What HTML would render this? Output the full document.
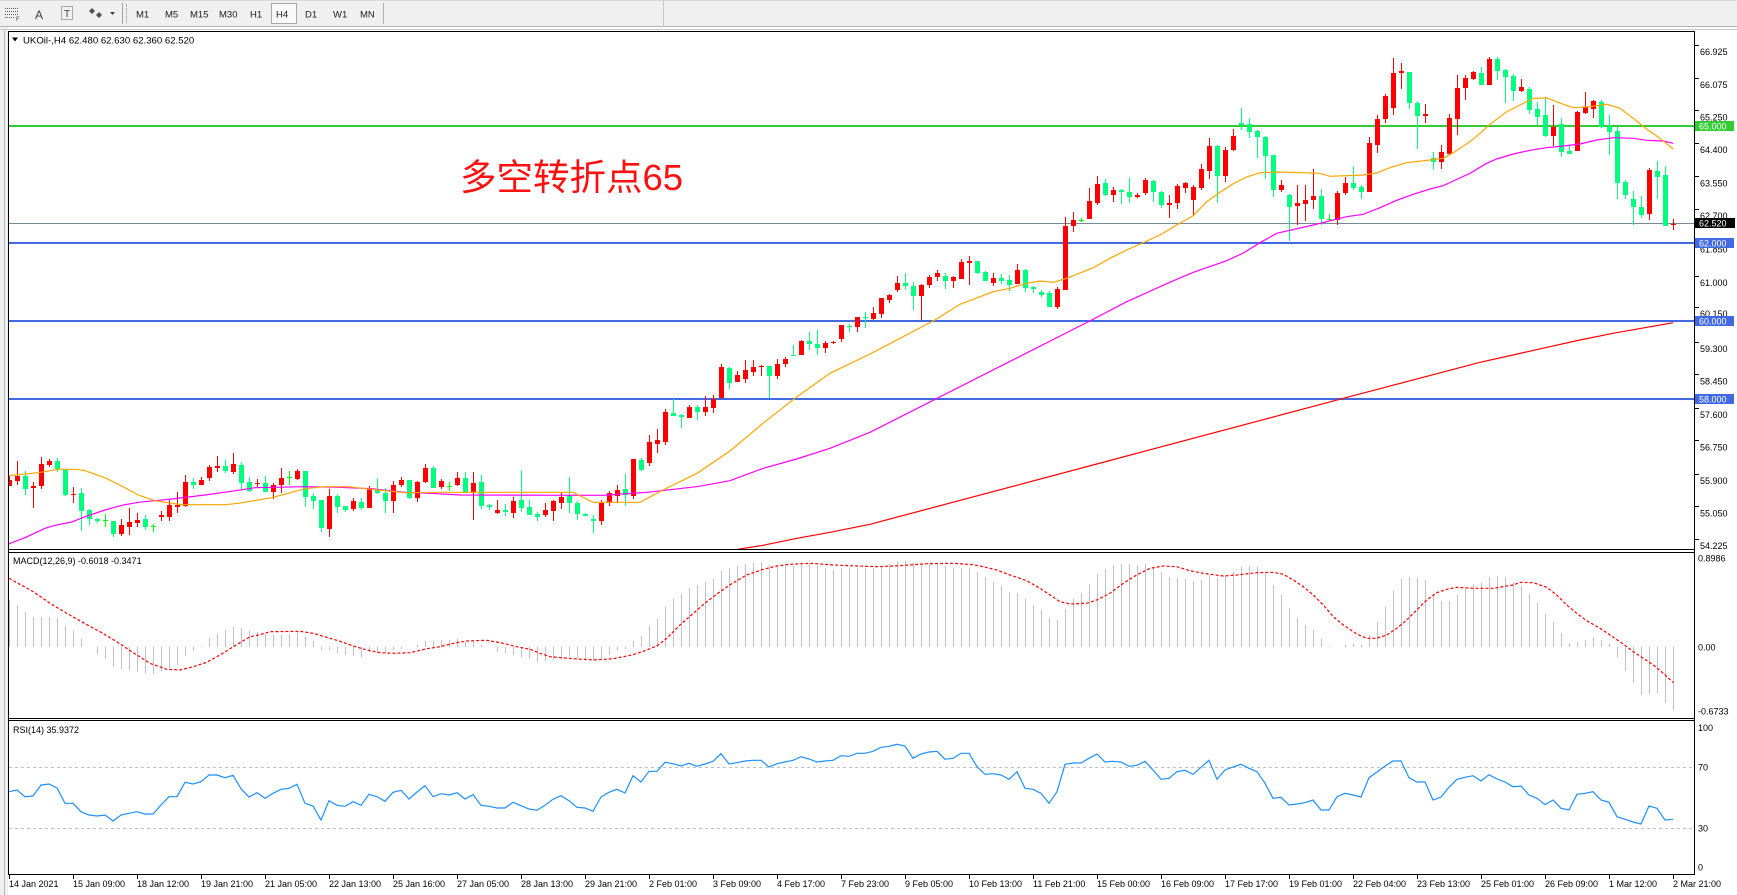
<!DOCTYPE html>
<html><head><meta charset="utf-8">
<style>
html,body{margin:0;padding:0;background:#fff;}
body{width:1737px;height:895px;overflow:hidden;position:relative;}
svg{position:absolute;left:0;top:0;}
text{font-family:"Liberation Sans",sans-serif;font-size:9px;fill:#000;}
.tb{font-size:9.5px;fill:#202020;}
.ax{font-size:9px;}
.lb{font-size:9px;fill:#fff;}
</style></head><body>
<svg id="s" width="1737" height="895" xmlns="http://www.w3.org/2000/svg">
<defs>
<clipPath id="cm"><rect x="9" y="32" width="1685" height="517"/></clipPath>
<clipPath id="cmacd"><rect x="9" y="553" width="1685" height="165"/></clipPath>
<clipPath id="crsi"><rect x="9" y="721" width="1685" height="153"/></clipPath>
</defs>
<!-- toolbar -->
<rect x="0" y="0" width="1737" height="27" fill="#f0f0f0"/>
<line x1="0" y1="0.5" x2="1737" y2="0.5" stroke="#d8d8d8"/>
<line x1="0" y1="26.5" x2="1737" y2="26.5" stroke="#b4b4b4"/>
<g shape-rendering="crispEdges">
<line x1="5" y1="8.5" x2="18" y2="8.5" stroke="#606060" stroke-dasharray="1,1"/>
<line x1="5" y1="11.5" x2="18" y2="11.5" stroke="#606060" stroke-dasharray="1,1"/>
<line x1="5" y1="14.5" x2="18" y2="14.5" stroke="#606060" stroke-dasharray="1,1"/>
<line x1="5" y1="17.5" x2="14" y2="17.5" stroke="#606060" stroke-dasharray="1,1"/>
<rect x="61.5" y="6.5" width="11" height="13" fill="none" stroke="#606060" stroke-dasharray="1,1"/>
<line x1="122.5" y1="3" x2="122.5" y2="24" stroke="#a0a0a0"/>
<line x1="126.5" y1="4" x2="126.5" y2="23" stroke="#909090" stroke-dasharray="1,1"/>
<rect x="271.5" y="3.5" width="25" height="20" fill="#f9f9f9" stroke="#a8a8a8"/>
<line x1="383.5" y1="3" x2="383.5" y2="24" stroke="#b0b0b0"/>
<line x1="663.5" y1="0" x2="663.5" y2="27" stroke="#c8c8c8"/>
</g>
<text x="16" y="21" style="font-size:6px;fill:#404040">F</text>
<text x="35" y="19" style="font-size:12px;fill:#404040">A</text>
<text x="64" y="17" style="font-size:10px;fill:#404040">T</text>
<polygon points="92,8 95,11 92,14 89,11" fill="#505050"/>
<polygon points="99,12 102,15 99,18 96,15" fill="#505050"/>
<polygon points="110,12 115,12 112.5,15" fill="#404040"/>
<text class="tb" x="136" y="17.5">M1</text>
<text class="tb" x="165" y="17.5">M5</text>
<text class="tb" x="190" y="17.5">M15</text>
<text class="tb" x="219" y="17.5">M30</text>
<text class="tb" x="250" y="17.5">H1</text>
<text class="tb" x="276" y="17.5">H4</text>
<text class="tb" x="305" y="17.5">D1</text>
<text class="tb" x="333" y="17.5">W1</text>
<text class="tb" x="360" y="17.5">MN</text>
<!-- left strip -->
<rect x="0" y="27" width="8" height="868" fill="#f0f0f0"/>
<line x1="4.5" y1="29" x2="4.5" y2="895" stroke="#b8b8b8"/>
<line x1="0" y1="29.5" x2="1737" y2="29.5" stroke="#c8c8c8"/>

<!-- horizontal level lines -->
<g clip-path="url(#cm)" shape-rendering="crispEdges">
<rect x="9" y="125" width="1685" height="2" fill="#32cd32"/>
<rect x="9" y="242" width="1685" height="2" fill="#4169e1"/>
<rect x="9" y="320" width="1685" height="2" fill="#4169e1"/>
<rect x="9" y="398" width="1685" height="2" fill="#4169e1"/>
<rect x="9" y="223" width="1685" height="1" fill="#778899"/>
</g>
<text x="460" y="190" style="font-family:'Liberation Sans','Noto Sans CJK SC',sans-serif;font-size:36.5px;fill:#ff1010">多空转折点65</text>
<g id="candles" clip-path="url(#cm)" shape-rendering="crispEdges"></g>
<g id="mas" clip-path="url(#cm)" fill="none"></g>
<g id="macd" clip-path="url(#cmacd)"></g>
<g id="rsi" clip-path="url(#crsi)"></g>

<!-- frames -->
<g shape-rendering="crispEdges" stroke="#000" fill="none">
<line x1="8.5" y1="31" x2="8.5" y2="875"/>
<line x1="1694.5" y1="31" x2="1694.5" y2="875"/>
<line x1="8" y1="31.5" x2="1695" y2="31.5"/>
<line x1="8" y1="549.5" x2="1695" y2="549.5"/>
<line x1="8" y1="552.5" x2="1695" y2="552.5"/>
<line x1="8" y1="718.5" x2="1695" y2="718.5"/>
<line x1="8" y1="720.5" x2="1695" y2="720.5"/>
<line x1="8" y1="874.5" x2="1695" y2="874.5"/>
</g>
<g id="ticks" shape-rendering="crispEdges" stroke="#000"></g>

<!-- header texts -->
<polygon points="12,37.5 18,37.5 15,41.5" fill="#000"/>
<text x="23" y="43.5" style="font-size:9.6px">UKOil-,H4  62.480 62.630 62.360 62.520</text>
<text x="13" y="564">MACD(12,26,9) -0.6018 -0.3471</text>
<text x="13" y="733">RSI(14) 35.9372</text>

<!-- price axis -->
<g class="ax">
<text class="ax" x="1700" y="55">66.925</text>
<text class="ax" x="1700" y="88">66.075</text>
<text class="ax" x="1700" y="120.5">65.250</text>
<text class="ax" x="1700" y="153">64.400</text>
<text class="ax" x="1700" y="186.5">63.550</text>
<text class="ax" x="1700" y="219">62.700</text>
<text class="ax" x="1700" y="252.5">61.850</text>
<text class="ax" x="1700" y="286">61.000</text>
<text class="ax" x="1700" y="317">60.150</text>
<text class="ax" x="1700" y="352">59.300</text>
<text class="ax" x="1700" y="384.5">58.450</text>
<text class="ax" x="1700" y="418">57.600</text>
<text class="ax" x="1700" y="450.5">56.750</text>
<text class="ax" x="1700" y="484">55.900</text>
<text class="ax" x="1700" y="516.5">55.050</text>
<text class="ax" x="1700" y="549">54.225</text>
</g>
<g shape-rendering="crispEdges">
<rect x="1695" y="121" width="39" height="10" fill="#32cd32"/>
<rect x="1695" y="218" width="40" height="10" fill="#000"/>
<rect x="1695" y="238" width="39" height="10" fill="#4169e1"/>
<rect x="1695" y="316" width="39" height="10" fill="#4169e1"/>
<rect x="1695" y="394" width="39" height="10" fill="#4169e1"/>
</g>
<text class="lb" x="1699" y="129.5">65.000</text>
<text class="lb" x="1699" y="226.5">62.520</text>
<text class="lb" x="1699" y="246.5">62.000</text>
<text class="lb" x="1699" y="324.5">60.000</text>
<text class="lb" x="1699" y="402.5">58.000</text>
<!-- MACD axis -->
<text x="1698" y="561.5">0.8986</text>
<text x="1698" y="650.3">0.00</text>
<text x="1698" y="714.5">-0.6733</text>
<!-- RSI axis -->
<text x="1698" y="731">100</text>
<text x="1698" y="770.5">70</text>
<text x="1698" y="831.5">30</text>
<text x="1698" y="870.5">0</text>
<!-- time axis -->
<g>
<text x="9" y="887">14 Jan 2021</text>
<text x="73" y="887">15 Jan 09:00</text>
<text x="137" y="887">18 Jan 12:00</text>
<text x="201" y="887">19 Jan 21:00</text>
<text x="265" y="887">21 Jan 05:00</text>
<text x="329" y="887">22 Jan 13:00</text>
<text x="393" y="887">25 Jan 16:00</text>
<text x="457" y="887">27 Jan 05:00</text>
<text x="521" y="887">28 Jan 13:00</text>
<text x="585" y="887">29 Jan 21:00</text>
<text x="649" y="887">2 Feb 01:00</text>
<text x="713" y="887">3 Feb 09:00</text>
<text x="777" y="887">4 Feb 17:00</text>
<text x="841" y="887">7 Feb 23:00</text>
<text x="905" y="887">9 Feb 05:00</text>
<text x="969" y="887">10 Feb 13:00</text>
<text x="1033" y="887">11 Feb 21:00</text>
<text x="1097" y="887">15 Feb 00:00</text>
<text x="1161" y="887">16 Feb 09:00</text>
<text x="1225" y="887">17 Feb 17:00</text>
<text x="1289" y="887">19 Feb 01:00</text>
<text x="1353" y="887">22 Feb 04:00</text>
<text x="1417" y="887">23 Feb 13:00</text>
<text x="1481" y="887">25 Feb 01:00</text>
<text x="1545" y="887">26 Feb 09:00</text>
<text x="1609" y="887">1 Mar 12:00</text>
<text x="1673" y="887">2 Mar 21:00</text>
</g>
</svg>
<script>
(function(){
const NS='http://www.w3.org/2000/svg';
function mk(t,a,p){const e=document.createElementNS(NS,t);for(const k in a)e.setAttribute(k,a[k]);p.appendChild(e);return e;}
const segs=[
[400,0,"r 240 257 228 257,r 228 242 183 254,g 228 266 213 284,r 258 263 246 323,r 192 257 171 266,r 183 194 178 200,g 183 208 174 215,g 208 285 208 287,r 281 284 262 308,g 279 332 264 392,g 329 356 326 374,g 356 364 353 368,d 359 359 343 380,g 363 402 363 410,r 375 402 357 408,r 366 380 323 404,r 359 368 339 382,g 356 380 346 390,d 378 378 371 395,r 345 350 333 362,r 314 350 300 362,r 316 320 276 338,r 246 318 225 320,g 246 254 234 267,r 240 255 232 255,r 201 233 195 243,r 198 203 168 215,g 198 212 180 220,r 192 215 159 222,g 195 248 186 268,g 246 274 230 275,r 249 252 237 262,g 249 275 229 276,r 255 276 249 296,r 234 254 204 278,d 232 232 213 254,r 213 237 208 240,g 213 290 213 321,g 288 302 280 327,g 300 383 300 395,r 288 386 267 410,g 288 320 282 338,g 318 329 318 335,r 303 326 294 332,g 306 323 294 329,r 264 323 258 323,g 268 280 234 282,g 278 302 264 338,r 255 302 243 338,r 240 254 232 260,g 240 293 240 296,r 246 293 243 306,r 204 246 192 249,g 204 263 198 263,r 243 260 237 268"],
[260,55,"d 678 678 667 692,r 655 675 636 678,g 655 700 636 700,r 670 695 636 780,g 666 738 646 746,g 735 741 732 749,r 751 758 720 762,g 750 755 733 768,r 723 758 711 773,g 720 743 630 755,g 741 764 720 765,g 762 770 757 782,r 750 765 730 770,r 723 752 720 782,r 710 728 696 746,g 705 728 651 758,g 728 762 723 779,g 762 767 758 768,g 776 782 764 818,r 728 782 720 794,r 700 730 693 737,r 690 707 675 730,g 687 705 641 737,r 597 707 597 718,g 600 630 594 632,r 546 608 525 617,r 540 551 507 578,r 456 546 446 554,g 459 467 418 467,g 464 472 462 503,r 440 473 435 473,g 440 455 435 479,r 440 455 408 467,r 418 443 405 459,r 321 413 312 413,g 324 369 321 386,r 345 365 333 366,r 330 356 301 368,r 321 335 299 347,r 318 322 315 347,g 318 347 318 413,r 312 347 297 357,r 297 311 291 320,e 284 284 256 287,r 242 284 239 284,g 243 251 215 269,g 252 263 210 284,r 249 263 243 278,r 245 250 243 251,r 195 236 195 245,e 197 197 192 215,r 171 200 171 215,e 172 172 155 203"],
[95,108,"r 655 672 636 675,r 608 657 608 670,r 600 615 597 623,r 564 585 543 590,g 564 573 534 585,g 573 603 561 645,r 570 603 567 675,r 546 570 540 579,r 534 546 525 558,g 543 558 534 582,r 546 558 543 579,r 501 552 492 552,r 498 503 483 570,g 498 534 498 537,g 531 558 528 558,r 549 564 534 573,g 549 558 537 567,g 555 570 540 588,r 525 567 507 567,g 525 579 522 591,g 577 583 573 595,g 591 600 585 606,g 594 636 588 636,r 582 636 576 642,r 393 585 366 585,r 375 393 351 411,d 376 376 370 382,r 318 372 279 372,r 267 324 243 330,g 264 300 252 303,r 285 300 276 321,g 285 291 282 327,g 291 306 249 324,r 299 305 294 309,r 255 294 249 300,g 258 291 255 321,g 291 330 288 339,r 324 330 300 369,r 273 324 267 342,r 264 279 261 294,r 276 315 270 363,r 222 279 207 285,r 153 228 129 252,g 153 243 150 324,r 165 243 156 261,r 123 165 102 168,g 84 90 39 105,g 87 111 69 129,g 108 126 105 189,g 126 183 123 252,g 180 285 180 306"],
[35,159,"r 450 465 435 470,g 480 516 477 618,r 504 513 450 570,r 495 507 450 558,r 483 495 402 522,g 483 552 462 570,d 552 552 537 555,r 474 555 468 570,r 444 474 426 480,g 444 459 393 465,g 456 471 450 492,r 324 471 306 471,r 252 330 240 354,r 183 252 177 264,r 114 219 69 240,r 108 114 84 162,g 111 204 111 222,g 204 243 198 342,r 237 243 207 264,g 369 381 351 405,r 351 381 330 402,r 249 357 237 360,r 159 252 120 300,r 129 159 120 195,r 111 132 108 135,g 114 150 96 150,r 72 150 66 150,g 72 108 66 135,g 105 126 102 204,g 123 168 117 198,r 156 168 132 171,g 162 225 156 237,g 222 246 201 270,g 240 303 186 306,r 276 303 210 333,g 267 351 249 366,g 348 357 333 357,r 231 348 228 348,r 216 234 171 237,r 198 222 195 249,g 201 276 195 279,g 273 291 240 360,g 288 444 276 492,g 441 480 435 492,g 492 516 468 570,g 516 540 483 549,r 405 537 399 555,g 408 426 378 492,g 420 573 393 573,x 567 567 552 585"]
];
const COL={r:'#ff0000',g:'#00ff7f',d:'#00ff00',e:'#00ff7f',x:'#ff0000'};
const cg=document.getElementById('candles');
segs.forEach(function(sg){const off=sg[0],st=sg[1];
 sg[2].split(',').forEach(function(c,j){const p=c.trim().split(' ');const t=p[0];
  const v=p.slice(1).map(Number).map(function(z){return Math.round(off+z/3);});
  const cx=9+8*(st+j);const col=COL[t];
  mk('rect',{x:cx,y:v[2],width:1,height:Math.max(1,v[3]-v[2]),fill:col},cg);
  if(t==='d'||t==='e'||t==='x'){mk('rect',{x:cx-2,y:v[0],width:5,height:1,fill:col},cg);}
  else{mk('rect',{x:cx-2,y:v[0],width:5,height:Math.max(1,v[1]-v[0]),fill:col},cg);}
 });});
function pts(a){return a.map(function(p){return p[0]+','+p[1];}).join(' ');}
const mg=document.getElementById('mas');
const orange=[[8.3,475.7],[38.3,472.7],[58.3,469.3],[76.7,469.3],[85,470.7],[105,477.7],[121.7,486],[138.3,495],[155,500.7],[171.7,503.3],[181.7,504.7],[225,504.7],[238.3,503.3],[271.7,497.7],[288.3,493.3],[305,488.7],[325,486.7],[348.3,486.7],[371.7,489.3],[405,492.7],[445,492.3],[573,492.3],[593,502.3],[640,502.3],[663,490],[697,473.3],[730,451],[763,423.3],[797,396.7],[830,373.3],[870,354],[935,320],[960,304.3],[993.3,291.7],[1010,288.3],[1026.7,283.3],[1040,281],[1053.3,282.3],[1066.7,278.3],[1093.3,267.7],[1110,258.3],[1126.7,250],[1143.3,242.7],[1160,235],[1176.7,225],[1193.3,215.7],[1206.7,201.7],[1220,192.3],[1233.3,183.7],[1246.7,177],[1260,172.7],[1280,172],[1320,173.3],[1330,176.3],[1363.3,175],[1376.7,173],[1390,167.7],[1406.7,162.7],[1430,160],[1443.3,158.3],[1453.3,152.7],[1470,141.7],[1480,133.3],[1490,124.3],[1506.7,111.7],[1520,105],[1533.3,98.3],[1546.7,98],[1563.3,104.3],[1573.3,107.7],[1590,106.7],[1606.7,104.3],[1620,108.3],[1633.3,118.3],[1646.7,129],[1660,138.3],[1673.3,149]];
const magenta=[[8.3,544],[25,537.7],[45,528.3],[55,525.3],[71.7,522],[85,516.7],[105,510],[121.7,505.3],[138.3,502.3],[155,500.7],[171.7,499],[205,495],[238.3,490.3],[255,487.7],[305,486.7],[338.3,487.3],[371.7,488.7],[405,492.3],[430,493.3],[460,495],[603,495.3],[646.7,492.3],[696.7,486.7],[730,480.7],[763.3,468.3],[796.7,459],[830,448.3],[870,432.3],[1091.7,320],[1126.7,301.7],[1160,286.7],[1176.7,279.3],[1193.3,272.3],[1226.7,260.7],[1243.3,253],[1260,242.7],[1276.7,233.3],[1313.3,225],[1346.7,216.7],[1363.3,214.3],[1380,207.7],[1396.7,200.3],[1413.3,194.3],[1430,189],[1443.3,185.7],[1453.3,181],[1470,173.3],[1486.7,163.3],[1496.7,159],[1513.3,154],[1530,150.3],[1546.7,147.7],[1563.3,146],[1580,144],[1596.7,140],[1613.3,137.7],[1633.3,138.3],[1646.7,140.3],[1663.3,141],[1673.3,143.3]];
const red200=[[700,557],[740,549],[763,545.3],[797,538.3],[830,532.3],[870,524.3],[1108,461],[1342,398.7],[1480,362.3],[1513,355],[1547,347.3],[1580,340],[1613,333.3],[1647,327.3],[1673,322.7]];
mk('polyline',{points:pts(red200),stroke:'#ff0000','stroke-width':1.2},mg);
mk('polyline',{points:pts(magenta),stroke:'#ff00ff','stroke-width':1.2},mg);
mk('polyline',{points:pts(orange),stroke:'#ffa500','stroke-width':1.2},mg);
// MACD
const hist=[600,605,612,617,617,617,618,626,631,639,647,654,659,667,669,670,672,673,674,671,668,665,656,651,646,638,634,630,627,627.7,630.7,632,633.7,634.7,634.7,633.7,631.7,636.7,640.7,650,649.7,652.7,654.7,655.7,656.7,651.7,652.7,652.7,650,648.7,647.3,645,640.7,640.7,639.7,639.7,638.7,641.7,641.7,644.7,646.7,651.7,652.7,654.7,656.7,658.7,661.7,660.7,659.7,658.7,656.7,658.7,659.7,659.7,658.7,654.7,650.7,648.7,640.7,635.7,625.7,618.7,606.7,598.7,593.7,587.7,584.7,581.7,578.7,570.7,567.7,565.7,563.7,562.7,
562,565,566,566,566,565,563.3,566,567.7,570,568,568,568,568,568,566,564,562,561,563,564,564,564,566,568,568,568,572,577,582,586,592,593,599,605,610,618,620,609,599,593,584,574,569,565,564,564,565,564,567,572,577,578,579,581,580,575,578,576,572,567,566,567,572,
584.7,594.7,607.7,618,625,630,638.7,646,647,645,644,645,635,622,607,591,579,577,578,580,595,601,601,595,589,584,583,577,576,577,
582,586,594,603,614,622,633,643,642,640,637,640,644,656.7,671,683,695,694,693,703,710];
const Z=647;const hg=document.getElementById('macd');
const hh=mk('g',{'shape-rendering':'crispEdges'},hg);
hist.forEach(function(y,i){const x=9+8*i;const yy=Math.round(y);const t=Math.min(yy,Z),b=Math.max(yy,Z);if(b-t>=1)mk('rect',{x:x,y:t,width:1,height:b-t,fill:'#c0c0c0'},hh);});
const sig=[[9,578.3],[33.3,591.7],[50,603.3],[66.7,613.3],[83.3,622.7],[100,631.7],[116.7,641.7],[133.3,652.7],[150,663.3],[166.7,669.3],[180,670],[193.3,666.7],[206.7,662.3],[220,655],[233.3,646.7],[250,636.7],[260,634.7],[270,631.7],[300,631.3],[313.3,633.3],[326.7,637.3],[340,641.3],[353.3,646],[366.7,650],[380,652.7],[393.3,653.3],[410,652.7],[426.7,648.7],[440,646.7],[453.3,643.3],[466.7,641],[486.7,640.3],[503.3,643.3],[516.7,646.7],[530,649.3],[540,653.3],[550,656.7],[573.3,658.7],[593.3,660],[613.3,658.7],[633.3,654.7],[646.7,650],[656.7,646],[666.7,638.3],[680,625],[693.3,613.3],[706.7,601.7],[720,591.7],[733.3,582.7],[746.7,575],[763.3,569.3],[776.7,566],[790,564.3],[810,563.3],[833.3,565],[850,565.7],[876.7,566.7],[900,565.7],[926.7,563.7],[953.3,563.3],[973.3,564.7],[983.3,566.7],[996.7,570],[1010,575],[1026.7,580.7],[1040,588.3],[1050,595],[1060,601.7],[1070,604],[1086.7,603.3],[1096.7,600],[1110,593.3],[1123.3,583.3],[1136.7,575],[1150,568.3],[1163.3,566],[1176.7,566.7],[1190,570.7],[1203.3,573.3],[1223.3,576],[1236.7,575],[1256.7,572.7],[1273.3,572.3],[1283.3,574.3],[1293.3,580],[1303.3,586.7],[1313.3,595],[1323.3,605],[1333.3,616.7],[1343.3,625],[1356.7,634],[1366.7,638.3],[1376.7,638.3],[1386.7,635],[1396.7,628.3],[1406.7,620],[1416.7,610],[1426.7,600],[1436.7,592.7],[1446.7,589.3],[1456.7,587.3],[1473.3,588.3],[1493.3,588.3],[1513.3,585],[1520,582.3],[1533.3,582.7],[1546.7,587.3],[1556.7,595],[1566.7,605],[1576.7,613.3],[1586.7,620.7],[1600,628.3],[1610,635],[1623.3,644],[1633.3,651.7],[1643.3,658.3],[1653.3,665],[1663.3,673.3],[1673.3,682.7]];
mk('polyline',{points:pts(sig),fill:'none',stroke:'#ff0000','stroke-width':1.2,'stroke-dasharray':'3,2'},hg);
// RSI
const rg=document.getElementById('rsi');
mk('line',{x1:9,y1:767.5,x2:1694,y2:767.5,stroke:'#c0c0c0','stroke-dasharray':'3,3','shape-rendering':'crispEdges'},rg);
mk('line',{x1:9,y1:828.5,x2:1694,y2:828.5,stroke:'#c0c0c0','stroke-dasharray':'3,3','shape-rendering':'crispEdges'},rg);
const rsi=[791.7,790,796.7,796,785,784,788,803.3,803.3,811.7,815,816,815,821,815,813.3,811.7,814,814,805,796.7,796.7,782.3,784,781.7,775,775,777.7,775.3,
788.7,797,792.7,798.3,793.3,789.3,788.3,784.3,803.3,806,820,800.7,805.3,806.3,801.7,805.3,794.3,796.7,801.3,792.3,790.3,799,792,785.7,796.7,793.7,795,792.7,799,794.7,805.3,806.3,808,808,802.3,805.7,809,810.3,805.3,799.3,795.7,800.7,807.3,808,811.3,797,792.3,789.3,793,775.7,782,771.3,771.3,762.3,763.7,766,763.3,766.3,764,761.3,753.7,764,762.7,761,760.3,
760.3,767,763.7,762,760.3,756.7,759,762,761,760.3,755.7,756.3,753.3,753.3,751.3,747.3,746.3,744.3,746,758.3,754,752,751.3,759.3,758.3,753.3,753.3,766.7,774.3,773.7,775,779.3,771.7,788.3,789.3,793.3,803.3,791.7,764.3,763,763,758.3,754,762,761.3,762,766.3,765.3,761.3,770,779.3,778.3,771.7,770.3,774.3,767.3,760.3,779.3,770,767,764.3,768.3,771.7,783.3,
798.3,797.3,805,804,802.7,800,810,810,796.7,793.3,795,797,777.7,772,766,761,761,777.7,782,782,800,797,787.3,779.3,777.3,775.7,781,774.7,779,782,
786.7,786,795,798.3,804.7,800,808.3,810,794.3,793.3,791.7,800,802.3,816.7,819.3,822,824,806,808.3,820,819.3];
mk('polyline',{points:pts(rsi.map(function(y,i){return [9+8*i,y];})),fill:'none',stroke:'#1e90ff','stroke-width':1.2},rg);
// ticks
const tg=document.getElementById('ticks');
for(let k=0;k<27;k++){const x=9+64*k+0.5;mk('line',{x1:x,y1:875,x2:x,y2:879},tg);}
[52,84.7,117.3,150,183.3,216,249.3,282.7,314,348.7,381.3,414.7,447.3,480.7,513.3,546].forEach(function(y){const yy=Math.round(y-7)+0.5;mk('line',{x1:1695,y1:yy,x2:1699,y2:yy},tg);});
})();
</script>
</body></html>
